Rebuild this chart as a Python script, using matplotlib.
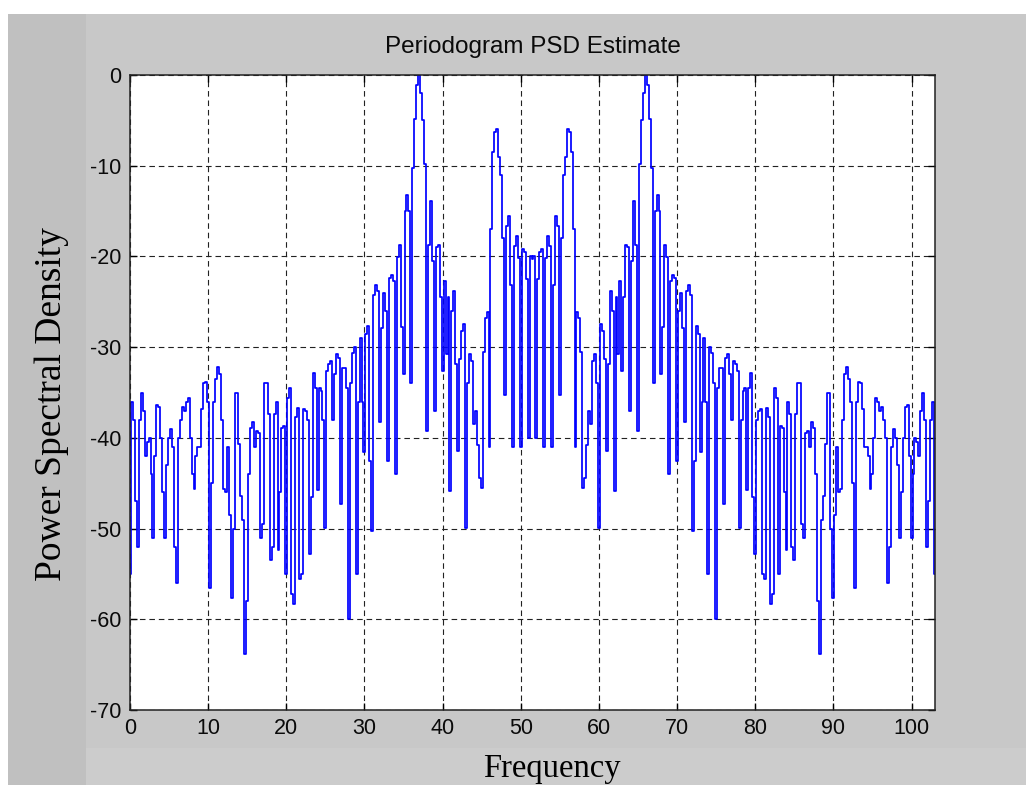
import numpy as np
import matplotlib
matplotlib.use("Agg")
import matplotlib.pyplot as plt
from matplotlib.patches import Rectangle

# periodogram values (dB), one every 0.25 Hz
psd_db = [
    # 0 - 12.75
    -55, -36, -38, -47, -52, -38, -35, -37, -42, -40.5, -40, -44,
    -51, -42, -36.4, -36.6, -40, -46, -51, -43, -40, -39, -41, -52,
    -56, -40, -38, -36.6, -37, -36, -35.6, -40, -44, -45.6, -42, -41,
    -41, -36.8, -34, -33.8, -36, -56.5, -45, -36, -33.5, -32.2, -33, -38,
    -45.6, -46, -41, -48.5,
    # 13 - 25.75
    -57.7, -50, -35, -35, -40.7, -46.4, -49, -63.8, -58, -44, -38.9, -38.3,
    -41, -39.2, -39.5, -51, -49.5, -34, -34, -37.4, -53.5, -52, -37.4, -36,
    -52.4, -46, -38.9, -38.7, -55, -35.6, -34.5, -57.2, -58.3, -37.7, -36.7, -55.6,
    -55, -36.8, -37, -38, -52.8, -46.5, -32.8, -34.5, -45.8, -34.5, -34.8, -38,
    -49.9, -32.6, -31.9, -31.5,
    # 26 - 38.75
    -38, -33, -30.8, -31.2, -47.3, -32.3, -32.3, -34.5, -60, -34, -30.6, -30,
    -55, -36, -29, -36, -41.6, -28.6, -27.7, -42.5, -50.3, -24.2, -23.1, -23.8,
    -38.2, -27.9, -24, -26, -42.6, -22.4, -22, -22.7, -44, -20.1, -18.7, -27.8,
    -33, -15, -13.2, -15, -34, -10.3, -4.8, -1.1, 0, -2, -5, -9.8,
    -39.2, -18.7, -13.9, -20.5,
    # 39 - 51.5
    -37, -19, -18.7, -24.5, -32.6, -22.7, -30.8, -24.5, -45.9, -26, -23.8, -31.9,
    -41.4, -31.3, -28.2, -27.5, -49.9, -34, -30.8, -31.5, -38.5, -37, -40.8, -44.4,
    -45.5, -30.5, -26.8, -26.1, -41, -17, -8.5, -6.3, -6, -9, -11, -18,
    -35.3, -16.6, -15.5, -23.2, -41, -18.8, -17.7, -20.2, -41, -19.2, -19.5, -22.5,
    -40, -19.9, -20.3,
    # 51.75 - 64.5
    -19.9, -40, -22.5, -19.5, -19.2, -41, -20.2, -17.7, -18.8, -41, -23.2, -15.5,
    -16.6, -35.3, -18, -11, -9, -6, -6.3, -8.5, -17, -41, -26.1, -26.8,
    -30.5, -45.5, -44.4, -40.8, -37, -38.5, -31.5, -30.8, -34, -49.9, -27.5, -28.2,
    -31.3, -41.4, -31.9, -23.8, -26, -45.9, -24.5, -30.8, -22.7, -32.6, -24.5, -18.7,
    -19, -37,
    # 64.75 - 77.5
    -20.5, -13.9, -18.7, -39.2, -9.8, -5, -2, 0, -1.1, -4.8, -10.3, -34,
    -15, -13.2, -15, -33, -27.8, -18.7, -20.1, -44, -22.7, -22, -22.4, -42.6,
    -26, -24, -27.9, -38.2, -23.8, -23.1, -24.2, -50.3, -42.5, -27.7, -28.6, -41.6,
    -36, -29, -36, -55, -30, -30.6, -34, -60, -34.5, -32.3, -32.3, -47.3,
    -31.2, -30.8, -33, -38,
    # 77.75 - 90.5
    -31.5, -31.9, -32.6, -49.9, -38, -34.8, -34.5, -45.8, -34.5, -32.8, -46.5, -52.8,
    -38, -37, -36.8, -55, -55.6, -36.7, -37.7, -58.3, -57.2, -34.5, -35.6, -55,
    -38.7, -38.9, -46, -52.4, -36, -37.4, -52, -53.5, -37.4, -34, -34, -49.5,
    -51, -39.5, -39.2, -41, -38.3, -38.9, -44, -58, -63.8, -49, -46.4, -40.7,
    -35, -35, -50, -57.7,
    # 90.75 - 103
    -48.5, -41, -46, -45.6, -38, -33, -32.2, -33.5, -36, -45, -56.5, -36,
    -33.8, -34, -36.8, -41, -41, -42, -45.6, -44, -40, -35.6, -36, -37,
    -36.6, -38, -40, -56, -52, -41, -39, -40, -43, -51, -46, -40,
    -36.6, -36.4, -42, -51, -44, -40, -40.5, -42, -37, -35, -38, -52,
    -47, -38, -36, -55,
]
bin_width = 0.25
freq = np.arange(len(psd_db)) * bin_width

x_ticks = [0, 10, 20, 30, 40, 50, 60, 70, 80, 90, 100]
y_ticks = [0, -10, -20, -30, -40, -50, -60, -70]

W, H = 1026, 785
fig = plt.figure(figsize=(W / 100, H / 100), dpi=100, facecolor="white")

# MATLAB figure window greys behind the axes
fig.patches.append(Rectangle((8 / W, 0), 78 / W, 1 - 14 / H, transform=fig.transFigure,
                             facecolor="#c0c0c0", edgecolor="none", zorder=-3))
fig.patches.append(Rectangle((86 / W, 37 / H), 1, 1 - 51 / H, transform=fig.transFigure,
                             facecolor="#c8c8c8", edgecolor="none", zorder=-3))
fig.patches.append(Rectangle((86 / W, 0), 1, 37 / H, transform=fig.transFigure,
                             facecolor="#cccccc", edgecolor="none", zorder=-3))

ax = fig.add_axes([130 / W, 75 / H, 805 / W, 635 / H])
ax.set_facecolor("white")
ax.plot(freq, psd_db, color="#0000ff", lw=1.25, drawstyle="steps-mid")

ax.set_xlim(0, 103)
ax.set_ylim(-70, 0)
ax.set_xticks(x_ticks)
ax.set_yticks(y_ticks)

tick_font = dict(family="Liberation Sans", size=15.5)
ax.set_xticklabels([str(t) for t in x_ticks], **tick_font)
ax.set_yticklabels([str(t) for t in y_ticks], **tick_font)
ax.tick_params(direction="in", length=5, width=1, color="black",
               top=True, right=True, pad=6, labelcolor="#0a0a0a")
ax.grid(True, color="#222222", linestyle=(0, (5, 3.5)), linewidth=0.8)
for s in ax.spines.values():
    s.set_linewidth(1.1)
    s.set_color("#222222")

ax.set_title("Periodogram PSD Estimate", family="Liberation Sans", size=17.5,
             color="#0a0a0a", pad=16)

fig.text(552 / W, 1 - 769 / H, "Frequency", family="Liberation Serif", size=23.5,
         ha="center", va="center")
fig.text(52 / W, 1 - 404 / H, "Power Spectral Density", family="Liberation Serif",
         size=27, ha="center", va="center", rotation=90)

fig.savefig("out.png", dpi=100, facecolor=fig.get_facecolor())
